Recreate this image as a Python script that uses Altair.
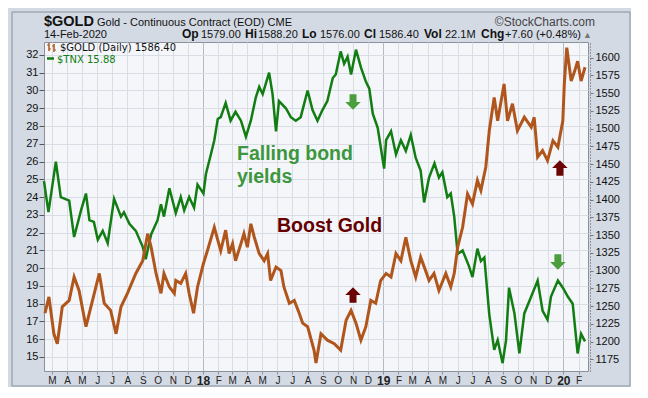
import altair as alt
import pandas as pd

# ---------------- data ----------------
tnx_dates = [
    "2017-02-13", "2017-02-22", "2017-03-09", "2017-03-19", "2017-04-05", "2017-04-15", "2017-04-29",
    "2017-05-09", "2017-05-16", "2017-05-25", "2017-06-02", "2017-06-12", "2017-06-22", "2017-07-05",
    "2017-07-19", "2017-07-25", "2017-08-05", "2017-08-18", "2017-09-01", "2017-09-07", "2017-09-18",
    "2017-10-01", "2017-10-08", "2017-10-14", "2017-10-25", "2017-11-07", "2017-11-17", "2017-11-24",
    "2017-12-04", "2017-12-14", "2017-12-21", "2018-01-02",
    "2018-01-07", "2018-01-17", "2018-01-24", "2018-01-31", "2018-02-06", "2018-02-16", "2018-02-26",
    "2018-03-08", "2018-03-19", "2018-03-29", "2018-04-08", "2018-04-18", "2018-04-25", "2018-05-02",
    "2018-05-15", "2018-05-22", "2018-05-29", "2018-06-04", "2018-06-18", "2018-06-28", "2018-07-08",
    "2018-07-18", "2018-08-01", "2018-08-11", "2018-08-21", "2018-08-31", "2018-09-10", "2018-09-21",
    "2018-09-27", "2018-10-07", "2018-10-14", "2018-10-21", "2018-10-28", "2018-11-07", "2018-11-17",
    "2018-11-27", "2018-12-04", "2018-12-11", "2018-12-21",
    "2019-01-03", "2019-01-07", "2019-01-17", "2019-01-27", "2019-02-06", "2019-02-16", "2019-02-26",
    "2019-03-08", "2019-03-18", "2019-03-25", "2019-04-04", "2019-04-15", "2019-04-24", "2019-05-01",
    "2019-05-11", "2019-05-18", "2019-05-25", "2019-06-01", "2019-06-11", "2019-06-24", "2019-07-01",
    "2019-07-11", "2019-07-18", "2019-07-25", "2019-08-04", "2019-08-14", "2019-08-21", "2019-08-31",
    "2019-09-07", "2019-09-13", "2019-09-24", "2019-10-04", "2019-10-14", "2019-10-28", "2019-11-10",
    "2019-11-20", "2019-11-30", "2019-12-07", "2019-12-21", "2019-12-31",
    "2020-01-10", "2020-01-20", "2020-01-30", "2020-02-06", "2020-02-14",
]
tnx_values = [
    24.9, 23.15, 26.0, 24.0, 23.8, 21.75, 23.25, 24.2, 22.7, 22.6, 21.6, 22.1, 21.4, 23.9,
    22.9, 23.15, 22.5, 22.1, 21.2, 20.5, 21.9, 22.7, 23.6, 22.9, 24.5, 23.1, 24.0, 23.25,
    24.0, 23.4, 24.7, 24.2,
    25.3, 26.4, 27.2, 28.4, 28.5, 29.3, 28.3, 28.8, 28.3, 27.4, 28.3, 29.6, 30.2, 29.8,
    31.0, 29.8, 27.7, 29.4, 29.0, 28.5, 28.3, 28.5, 30.0, 28.9, 28.3, 28.9, 29.4, 30.7,
    30.9, 32.2, 31.5, 31.9, 30.9, 32.3, 31.3, 30.5, 30.1, 28.7, 27.9,
    25.6, 27.2, 27.7, 26.4, 27.2, 26.6, 27.5, 26.2, 25.5, 23.7, 25.1, 25.9, 25.1, 25.4,
    24.0, 24.2, 22.9, 20.8, 21.0, 20.1, 19.5, 21.1, 20.4, 20.6, 17.4, 15.4, 15.95, 14.65,
    15.95, 18.9, 17.45, 15.2, 17.45, 18.4, 19.3, 17.6, 17.1, 18.4, 19.3, 18.9,
    18.4, 18.0, 15.2, 16.3, 15.88,
]

gold_dates = [
    "2017-02-15", "2017-02-23", "2017-03-05", "2017-03-12", "2017-03-22", "2017-04-05", "2017-04-15",
    "2017-04-25", "2017-05-09", "2017-05-19", "2017-06-05", "2017-06-15", "2017-06-28", "2017-07-09",
    "2017-07-19", "2017-08-01", "2017-08-18", "2017-09-01", "2017-09-11", "2017-09-18", "2017-09-28",
    "2017-10-08", "2017-10-14", "2017-10-25", "2017-11-04", "2017-11-07", "2017-11-17", "2017-11-27",
    "2017-12-04", "2017-12-13", "2017-12-21",
    "2018-01-02", "2018-01-10", "2018-01-24", "2018-01-31", "2018-02-06", "2018-02-16", "2018-02-23",
    "2018-03-02", "2018-03-08", "2018-03-19", "2018-03-25", "2018-04-01", "2018-04-08", "2018-04-15",
    "2018-04-25", "2018-05-05", "2018-05-12", "2018-05-18", "2018-05-29", "2018-06-08", "2018-06-14",
    "2018-06-25", "2018-07-05", "2018-07-15", "2018-07-22", "2018-08-01", "2018-08-14", "2018-08-18",
    "2018-08-28", "2018-09-10", "2018-09-24", "2018-10-07", "2018-10-18", "2018-10-28", "2018-11-07",
    "2018-11-17", "2018-11-27", "2018-12-07", "2018-12-17", "2018-12-27",
    "2019-01-07", "2019-01-17", "2019-01-27", "2019-02-06", "2019-02-16", "2019-02-26", "2019-03-08",
    "2019-03-18", "2019-03-28", "2019-04-04", "2019-04-14", "2019-04-24", "2019-05-08", "2019-05-18",
    "2019-05-25", "2019-06-01", "2019-06-11", "2019-06-21", "2019-07-01", "2019-07-11", "2019-07-18",
    "2019-07-28", "2019-08-04", "2019-08-14", "2019-08-21", "2019-09-03", "2019-09-10", "2019-09-20",
    "2019-09-30", "2019-10-14", "2019-10-28", "2019-11-03", "2019-11-10", "2019-11-20", "2019-11-30",
    "2019-12-11", "2019-12-21", "2019-12-31",
    "2020-01-03", "2020-01-08", "2020-01-17", "2020-01-24", "2020-01-30", "2020-02-06", "2020-02-14",
]
gold_values = [
    1240, 1263, 1211, 1197, 1249, 1258, 1291, 1272, 1221, 1249, 1296, 1254, 1244, 1211,
    1249, 1268, 1296, 1314, 1352, 1333, 1296, 1268, 1296, 1277, 1268, 1286, 1282, 1296,
    1268, 1240, 1277,
    1310, 1328, 1361, 1343, 1328, 1357, 1324, 1338, 1314, 1338, 1352, 1333, 1366, 1347,
    1324, 1314, 1324, 1286, 1305, 1300, 1277, 1254, 1258, 1240, 1226, 1221, 1188, 1170,
    1211, 1202, 1197, 1188, 1230, 1244, 1226, 1202, 1221, 1258, 1254, 1286,
    1296, 1291, 1324, 1314, 1347, 1314, 1291, 1319, 1300, 1286, 1296, 1272, 1296, 1277,
    1296, 1333, 1361, 1408, 1394, 1427, 1413, 1446, 1497, 1544, 1511, 1563, 1511, 1535,
    1497, 1516, 1502, 1516, 1460, 1469, 1455, 1483, 1474, 1511,
    1563, 1614, 1567, 1581, 1595, 1567, 1586.4,
]

left_ticks = list(range(15, 33))
right_ticks = list(range(1175, 1601, 25))

notes_text = ["Falling bond", "yields", "Boost Gold"]
notes_dates = ["2018-03-11", "2018-03-11", "2018-05-31"]
notes_tnx = [26.09, 24.79, 22.03]
notes_kind = ["green", "green", "red"]

arrow_dates = ["2018-11-01", "2018-11-01", "2019-12-25", "2019-12-21"]
arrow_tnx = [29.35, 18.49, 25.64, 20.35]
arrow_kind = ["down", "up", "up", "down"]

# ---------------- tables ----------------
tnx_df = pd.DataFrame({"date": tnx_dates, "tnx": tnx_values})
gold_df = pd.DataFrame({"date": gold_dates, "gold": gold_values})
notes_df = pd.DataFrame({"date": notes_dates, "tnx": notes_tnx, "text": notes_text, "kind": notes_kind})
arrows_df = pd.DataFrame({"date": arrow_dates, "tnx": arrow_tnx, "kind": arrow_kind})

FONT = "Liberation Sans"
GREEN = "#127d12"
BROWN = "#b0561c"
is_jan = "utcmonth(datum.value) == 0"

X_DOMAIN = [alt.DateTime(year=2017, month=2, date=13, utc=True),
            alt.DateTime(year=2020, month=2, date=20, utc=True)]

X = alt.X(
    "date:T",
    scale=alt.Scale(type="utc", domain=X_DOMAIN, nice=False),
    axis=alt.Axis(
        tickCount={"interval": "month", "step": 1},
        labelExpr="utcmonth(datum.value) == 0 ? utcFormat(datum.value, '%y') : substring(utcFormat(datum.value, '%b'), 0, 1)",
        labelFontWeight={"condition": {"test": is_jan, "value": "bold"}, "value": "normal"},
        labelFontSize={"condition": {"test": is_jan, "value": 12}, "value": 10},
        gridColor={"condition": {"test": is_jan, "value": "#b3b8c2"}, "value": "#d9dde6"},
        grid=True, title=None, domain=False, tickSize=3, tickColor="#8a8f99",
        labelPadding=1, labelColor="#222", labelFont=FONT, labelOverlap=False, labelFlush=False,
    ),
)

Y_TNX = alt.Y(
    "tnx:Q",
    scale=alt.Scale(domain=[14.21, 32.73], nice=False, zero=False),
    axis=alt.Axis(
        values=left_ticks, orient="left", title=None, grid=True, gridColor="#d9dde6",
        tickSize=5, tickColor="#555", labelPadding=1, labelFontSize=11, labelFont=FONT,
        labelColor="#111", domain=False,
    ),
)

Y_GOLD = alt.Y(
    "gold:Q",
    scale=alt.Scale(domain=[1158.6, 1622], nice=False, zero=False),
    axis=alt.Axis(
        values=right_ticks, orient="right", title=None, grid=False, offset=2, format="d",
        tickSize=3, tickColor="#777", labelPadding=2, labelFontSize=11, labelFont=FONT,
        labelColor="#111", domain=True, domainDash=[1, 2], domainColor="#555",
    ),
)

tnx_line = alt.Chart(tnx_df).mark_line(color=GREEN, strokeWidth=2.5).encode(x=X, y=Y_TNX)
gold_line = alt.Chart(gold_df).mark_line(color=BROWN, strokeWidth=3).encode(x=X, y=Y_GOLD)

notes = alt.Chart(notes_df).mark_text(
    align="left", baseline="alphabetic", fontSize=19.5, fontWeight="bold", font=FONT
).encode(
    x=X, y=Y_TNX, text="text:N",
    color=alt.Color("kind:N", scale=alt.Scale(domain=["green", "red"], range=["#3d963d", "#660000"]), legend=None),
)

DOWN = "M-0.45,-1L0.45,-1L0.45,0L1,0L0,1L-1,0L-0.45,0Z"
UP = "M-0.45,1L0.45,1L0.45,0L1,0L0,-1L-1,0L-0.45,0Z"
arrows = alt.Chart(arrows_df).mark_point(filled=True, opacity=1, size=240, strokeWidth=0).encode(
    x=X, y=Y_TNX,
    shape=alt.Shape("kind:N", scale=alt.Scale(domain=["down", "up"], range=[DOWN, UP]), legend=None),
    color=alt.Color("kind:N", scale=alt.Scale(domain=["down", "up"], range=["#4a9e3c", "#6b0505"]), legend=None),
)

tnx_group = alt.layer(tnx_line, notes, arrows).resolve_scale(color="independent", shape="independent")


def label(text, x, y, size, weight="normal", color="#111", align="left", font=FONT):
    return alt.Chart(pd.DataFrame({"t": [text]})).mark_text(
        align=align, baseline="alphabetic", fontSize=size, fontWeight=weight, color=color, font=font
    ).encode(x=alt.value(x), y=alt.value(y), text="t:N")


def seg(x1, y1, x2, y2, color, width):
    return alt.Chart(pd.DataFrame({"a": [0]})).mark_rule(color=color, strokeWidth=width).encode(
        x=alt.value(x1), y=alt.value(y1), x2=alt.value(x2), y2=alt.value(y2)
    )


border = alt.Chart(pd.DataFrame({"a": [0]})).mark_rect(
    fill="transparent", stroke="#8a909a", strokeWidth=1
).encode(x=alt.value(-32), x2=alt.value(586), y=alt.value(-30), y2=alt.value(344))

texts = [
    label("$GOLD", 0, -16, 14.5, "bold", "#111"),
    label("Gold - Continuous Contract (EOD) CME", 53, -16, 11, "normal", "#111"),
    label("\u00a9StockCharts.com", 551, -16, 12, "normal", "#444", align="right"),
    label("14-Feb-2020", 0, -4, 11, "normal", "#111"),
    label("Op", 138, -4, 12, "bold"), label("1579.00", 157, -4, 11),
    label("Hi", 201, -4, 12, "bold"), label("1588.20", 214, -4, 11),
    label("Lo", 258, -4, 12, "bold"), label("1576.00", 276, -4, 11),
    label("Cl", 320, -4, 12, "bold"), label("1586.40", 335, -4, 11),
    label("Vol", 380, -4, 12, "bold"), label("22.1M", 401, -4, 11),
    label("Chg", 437, -4, 12, "bold"), label("+7.60 (+0.48%)", 461, -4, 11),
    label("\u25b2", 539, -4, 9, "normal", "#777"),
    label("$GOLD (Daily) 1586.40", 16, 9, 10, "normal", "#111", font="DejaVu Sans"),
    label("$TNX 15.88", 13, 20.5, 10, "normal", GREEN, font="DejaVu Sans"),
]

icons = [
    # small OHLC-bar icon for $GOLD
    seg(5, 1, 5, 9, BROWN, 1.5), seg(3, 3, 5, 3, BROWN, 1.2), seg(5, 7, 7, 7, BROWN, 1.2),
    seg(10, 2, 10, 10, BROWN, 1.5), seg(8, 4, 10, 4, BROWN, 1.2), seg(10, 8, 12, 8, BROWN, 1.2),
    # line swatch for $TNX
    seg(3, 16.5, 10, 16.5, GREEN, 2.5),
]

chart = alt.layer(border, tnx_group, gold_line, *icons, *texts).resolve_scale(
    y="independent"
).properties(
    width=544, height=329, autosize=alt.AutoSizeParams(type="none"),
    padding={"left": 36, "top": 34, "right": 43, "bottom": 16},
    background="#d4dae4",
).configure_view(fill="#f4f6fa", stroke="#8b909a", strokeWidth=1)

chart.save("out.html", embed_options={"renderer": "svg", "actions": False})
